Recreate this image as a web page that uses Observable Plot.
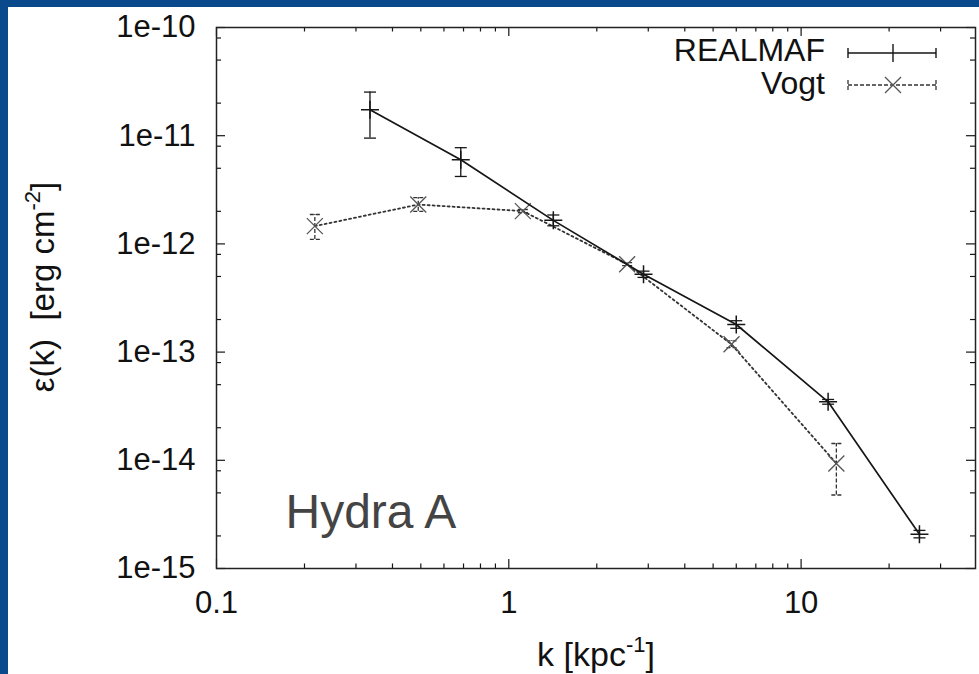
<!DOCTYPE html>
<html><head><meta charset="utf-8">
<script src="https://cdn.jsdelivr.net/npm/d3@7"></script>
<script src="https://cdn.jsdelivr.net/npm/@observablehq/plot@0.6"></script>
<style>
html,body{margin:0;padding:0;background:#0a4a8c;}
#wrap{position:relative;width:979px;height:674px;background:#0a4a8c;overflow:hidden;}
#chart{position:absolute;left:8px;top:7px;width:971px;height:667px;background:#fff;}
svg text{white-space:pre;}
</style></head><body><div id="wrap"><div id="chart"></div></div>
<script>
// REALMAF series
const realK  = [0.335, 0.685, 1.42, 2.89, 6.0, 12.37, 25.4];
const realE  = [1.74e-11, 6.0e-12, 1.65e-12, 5.24e-13, 1.80e-13, 3.47e-14, 2.07e-15];
const realLo = [9.5e-12, 4.2e-12, 1.47e-12, 4.9e-13, 1.66e-13, 3.3e-14, 1.92e-15];
const realHi = [2.53e-11, 7.75e-12, 1.85e-12, 5.6e-13, 1.95e-13, 3.65e-14, 2.25e-15];
// Vogt series
const vogtK  = [0.217, 0.49, 1.117, 2.54, 5.78, 13.2];
const vogtE  = [1.46e-12, 2.31e-12, 2.01e-12, 6.49e-13, 1.18e-13, 9.35e-15];
const vogtLo = [1.10e-12, 2.0e-12, 1.94e-12, 6.3e-13, 1.10e-13, 4.78e-15];
const vogtHi = [1.87e-12, 2.68e-12, 2.08e-12, 6.7e-13, 1.27e-13, 1.43e-14];
// ticks
const xMajor = [0.1, 1, 10];
const xMinor = [0.2,0.3,0.4,0.5,0.6,0.7,0.8,0.9, 2,3,4,5,6,7,8,9, 20,30];
const yMajor = [1e-15,1e-14,1e-13,1e-12,1e-11,1e-10];
const yMinor = [2e-15,5e-15,8e-15, 2e-14,5e-14,8e-14, 2e-13,5e-13,8e-13, 2e-12,5e-12,8e-12, 2e-11,5e-11,8e-11];
const seriesNames = ["REALMAF", "Vogt"];

const realData = realK.map((k,i)=>({k, e: realE[i], lo: realLo[i], hi: realHi[i]}));
const vogtData = vogtK.map((k,i)=>({k, e: vogtE[i], lo: vogtLo[i], hi: vogtHi[i]}));

const W = 971, H = 667, mL = 208, mR = 4, mT = 20, mB = 106;
const PW = W - mL - mR, PH = H - mT - mB;

const plusSym = {draw(c, s){const r=Math.sqrt(s/Math.PI); c.moveTo(-r,0);c.lineTo(r,0);c.moveTo(0,-r);c.lineTo(0,r);}};
const timesSym = {draw(c, s){const r=Math.sqrt(s/Math.PI); c.moveTo(-r,-r);c.lineTo(r,r);c.moveTo(-r,r);c.lineTo(r,-r);}};
const capSym = {draw(c, s){const r=Math.sqrt(s/Math.PI); c.moveTo(-r,0);c.lineTo(r,0);}};

const ink = "#161616";
const vInk = "#333";

const plot = Plot.plot({
  width: W, height: H,
  marginLeft: mL, marginRight: mR, marginTop: mT, marginBottom: mB,
  style: {fontFamily: "'Liberation Sans', Arial, sans-serif", fontSize: "31px", color: "#111", background: "white", overflow: "visible"},
  x: {type: "log", domain: [0.1, 39.5]},
  y: {type: "log", domain: [1e-15, 1e-10]},
  marks: [
    Plot.ruleX(xMajor, {x: d=>d, insetTop: PH-9, stroke: ink, strokeWidth: 1.2}),
    Plot.ruleX(xMajor, {x: d=>d, insetBottom: PH-9, stroke: ink, strokeWidth: 1.2}),
    Plot.ruleX(xMinor, {x: d=>d, insetTop: PH-4.5, stroke: ink, strokeWidth: 1.2}),
    Plot.ruleX(xMinor, {x: d=>d, insetBottom: PH-4.5, stroke: ink, strokeWidth: 1.2}),
    Plot.ruleY(yMajor, {y: d=>d, insetRight: PW-9, stroke: ink, strokeWidth: 1.2}),
    Plot.ruleY(yMajor, {y: d=>d, insetLeft: PW-9, stroke: ink, strokeWidth: 1.2}),
    Plot.ruleY(yMinor, {y: d=>d, insetRight: PW-5, stroke: ink, strokeWidth: 1.2}),
    Plot.ruleY(yMinor, {y: d=>d, insetLeft: PW-5, stroke: ink, strokeWidth: 1.2}),
    Plot.axisX(xMajor, {tickSize: 0, tickPadding: 22, tickFormat: d => String(d), label: null, fill: "#111"}),
    Plot.axisY(yMajor, {tickSize: 0, tickPadding: 21, tickFormat: d => "1e" + Math.round(Math.log10(d)), label: null, fill: "#111"}),
    // Vogt
    Plot.line(vogtData, {x: "k", y: "e", stroke: vInk, strokeWidth: 1.8, strokeDasharray: "2,3"}),
    Plot.ruleX(vogtData, {x: "k", y1: "lo", y2: "hi", stroke: vInk, strokeWidth: 1.3, strokeDasharray: "4,2"}),
    Plot.dot(vogtData, {x: "k", y: "lo", symbol: capSym, r: 5, fill: "none", stroke: vInk, strokeWidth: 1.3, strokeDasharray: "4,2"}),
    Plot.dot(vogtData, {x: "k", y: "hi", symbol: capSym, r: 5, fill: "none", stroke: vInk, strokeWidth: 1.3, strokeDasharray: "4,2"}),
    Plot.dot(vogtData, {x: "k", y: "e", symbol: timesSym, r: 8, fill: "none", stroke: "#555", strokeWidth: 1.3}),
    // REALMAF
    Plot.line(realData, {x: "k", y: "e", stroke: ink, strokeWidth: 1.7}),
    Plot.ruleX(realData, {x: "k", y1: "lo", y2: "hi", stroke: ink, strokeWidth: 1.3}),
    Plot.dot(realData, {x: "k", y: "lo", symbol: capSym, r: 6, fill: "none", stroke: ink, strokeWidth: 1.3}),
    Plot.dot(realData, {x: "k", y: "hi", symbol: capSym, r: 6, fill: "none", stroke: ink, strokeWidth: 1.3}),
    Plot.dot(realData, {x: "k", y: "e", symbol: plusSym, r: 9, fill: "none", stroke: ink, strokeWidth: 1.5}),
    Plot.frame({stroke: "#222", strokeWidth: 1.5}),
    Plot.text(["Hydra A"], {text: d => d, frameAnchor: "bottom-left", dx: 69, dy: -41, lineAnchor: "bottom", textAnchor: "start", fontSize: 48, fill: "#444"})
  ]
});
document.getElementById("chart").appendChild(plot);

const svg = d3.select(plot);
// X axis label
const xl = svg.append("text").attr("x", 588).attr("y", 659).attr("text-anchor", "middle").attr("fill", "#111").attr("font-size", 34);
xl.append("tspan").text("k [kpc");
xl.append("tspan").attr("dy", -14).attr("font-size", 22).text("-1");
xl.append("tspan").attr("dy", 14).text("]");
// Y axis label
const yl = svg.append("text").attr("transform", "translate(46,280) rotate(-90)").attr("text-anchor", "middle").attr("fill", "#111").attr("font-size", 33);
yl.append("tspan").text("\u03b5(k)  [erg cm");
yl.append("tspan").attr("dy", -14).attr("font-size", 22).text("-2");
yl.append("tspan").attr("dy", 14).text("]");
// Legend
const lg = svg.append("g").attr("fill", "#111").attr("font-size", 32);
lg.append("text").attr("x", 817).attr("y", 54).attr("text-anchor", "end").text(seriesNames[0]);
lg.append("text").attr("x", 817).attr("y", 87).attr("text-anchor", "end").text(seriesNames[1]);
const l1 = 46, l2 = 78, x0 = 840, x1 = 928, xm = 885;
const g1 = lg.append("g").attr("stroke", ink).attr("stroke-width", 1.4).attr("fill", "none");
g1.append("path").attr("d", `M${x0},${l1}H${x1}M${x0},${l1-5}V${l1+5}M${x1},${l1-5}V${l1+5}M${xm},${l1-9}V${l1+9}`);
const g2 = lg.append("g").attr("stroke", vInk).attr("stroke-width", 1.3).attr("fill", "none");
g2.append("path").attr("stroke-dasharray", "4,2").attr("d", `M${x0},${l2}H${x1}M${x0},${l2-5}V${l2+5}M${x1},${l2-5}V${l2+5}`);
g2.append("path").attr("stroke", "#555").attr("d", `M${xm-8},${l2-8}L${xm+8},${l2+8}M${xm-8},${l2+8}L${xm+8},${l2-8}`);
</script></body></html>
